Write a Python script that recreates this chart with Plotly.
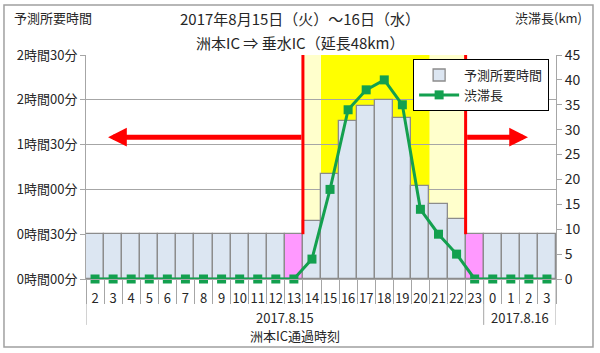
import plotly.graph_objects as go

# ---- data ----
hours = ["2", "3", "4", "5", "6", "7", "8", "9", "10", "11", "12", "13", "14", "15",
         "16", "17", "18", "19", "20", "21", "22", "23", "0", "1", "2", "3"]
dates = ["2017.8.15"] * 22 + ["2017.8.16"] * 4
travel_min = [30, 30, 30, 30, 30, 30, 30, 30, 30, 30, 30, 30, 39, 70,
              106, 116, 120, 108, 62, 50, 40, 30, 30, 30, 30, 30]
jam_km = [0, 0, 0, 0, 0, 0, 0, 0, 0, 0, 0, 0, 4, 18,
          34, 38, 40, 35, 14, 9, 5, 0, 0, 0, 0, 0]
pink_hours = ["13", "23"]
period_hours = ("14", "22")     # pale yellow / red lines
peak_hours = ("15", "20")       # bright yellow
left_ticks = [0, 30, 60, 90, 120, 150]
left_ticktext = ["0時間00分", "0時間30分", "1時間00分", "1時間30分", "2時間00分", "2時間30分"]
right_ticks = [0, 5, 10, 15, 20, 25, 30, 35, 40, 45]

FONT = "Noto Sans CJK JP"
TXT = "#262626"
GRID = "#a6a6a6"

x = list(range(len(hours)))
bar_colors = ["#ff99ff" if (h in pink_hours and d == "2017.8.15") else "#dce6f2"
              for h, d in zip(hours, dates)]

def idx(h):
    return hours.index(h)

p0, p1 = idx(period_hours[0]) - 0.5, idx(period_hours[1]) + 0.5
k0, k1 = idx(peak_hours[0]) - 0.5, idx(peak_hours[1]) + 0.5

fig = go.Figure()
fig.add_trace(go.Bar(x=x, y=travel_min, name="予測所要時間",
                     marker=dict(color=bar_colors, line=dict(color="#8c8c8c", width=1.3)),
                     yaxis="y"))
fig.add_trace(go.Scatter(x=x, y=jam_km, name="渋滞長", mode="lines+markers",
                         line=dict(color="#13a04f", width=3),
                         marker=dict(symbol="square", size=9, color="#13a04f"),
                         cliponaxis=False, yaxis="y2"))

shapes = [
    dict(type="rect", xref="x", yref="y", x0=p0, x1=p1, y0=0, y1=150,
         fillcolor="#ffffcc", line=dict(width=0), layer="below"),
    dict(type="rect", xref="x", yref="y", x0=k0, x1=k1, y0=0, y1=150,
         fillcolor="#ffff00", line=dict(width=0), layer="below"),
    dict(type="line", xref="x", yref="y", x0=p0, x1=p0, y0=30, y1=150,
         line=dict(color="#ff0000", width=3), layer="above"),
    dict(type="line", xref="x", yref="y", x0=p1, x1=p1, y0=30, y1=150,
         line=dict(color="#ff0000", width=3), layer="above"),
]
# group dividers below the axis
groups = []
for i, d in enumerate(dates):
    if not groups or groups[-1][0] != d:
        groups.append([d, i, i])
    else:
        groups[-1][2] = i
bounds = sorted(set([g[1] - 0.5 for g in groups] + [g[2] + 0.5 for g in groups]))
for b in bounds:
    shapes.append(dict(type="line", xref="x", yref="paper", x0=b, x1=b, y0=0, y1=-0.205,
                       line=dict(color=GRID, width=1)))
# outer frame
shapes.append(dict(type="rect", xref="paper", yref="paper", x0=-0.1745, x1=1.0787,
                   y0=-0.3036, y1=1.2232, line=dict(color="#a0a0a0", width=1.5)))

annotations = []
for g in groups:
    annotations.append(dict(x=(g[1] + g[2]) / 2, y=-0.174, xref="x", yref="paper",
                            yanchor="middle", text=g[0], showarrow=False,
                            font=dict(size=13, color=TXT)))
annotations += [
    dict(x=0.445, y=-0.254, xref="paper", yref="paper", text="洲本IC通過時刻",
         yanchor="middle", showarrow=False, font=dict(size=13, color=TXT)),
    dict(x=0.455, y=1.165, xref="paper", yref="paper", text="2017年8月15日（火）～16日（水）",
         yanchor="middle", showarrow=False, font=dict(size=15, color=TXT)),
    dict(x=0.455, y=1.055, xref="paper", yref="paper", text="洲本IC ⇒ 垂水IC（延長48km）",
         yanchor="middle", showarrow=False, font=dict(size=15, color=TXT)),
    dict(x=-0.158, y=1.167, xref="paper", yref="paper", text="予測所要時間",
         yanchor="middle", showarrow=False, xanchor="left", font=dict(size=13, color=TXT)),
    dict(x=0.985, y=1.167, xref="paper", yref="paper", text="渋滞長(km)",
         yanchor="middle", showarrow=False, xanchor="center", font=dict(size=13, color=TXT)),
    # arrows
    dict(x=0.72, y=95, xref="x", yref="y", ax=p0, ay=95, axref="x", ayref="y",
         text="", showarrow=True, arrowhead=2, arrowsize=0.75, arrowwidth=5,
         arrowcolor="#ff0000"),
    dict(x=23.95, y=95, xref="x", yref="y", ax=p1, ay=95, axref="x", ayref="y",
         text="", showarrow=True, arrowhead=2, arrowsize=0.75, arrowwidth=5,
         arrowcolor="#ff0000"),
]

fig.update_layout(
    width=600, height=353,
    margin=dict(l=86, r=44, t=55, b=74),
    paper_bgcolor="white", plot_bgcolor="white",
    font=dict(family=FONT, color=TXT, size=13),
    bargap=0,
    showlegend=True,
    legend=dict(x=0.696, y=0.982, xanchor="left", yanchor="top",
                bgcolor="white", bordercolor="black", borderwidth=1,
                font=dict(size=13, color=TXT), tracegroupgap=0, itemwidth=40),
    xaxis=dict(range=[-0.5, len(hours) - 0.5], tickvals=x, ticktext=hours,
               ticks="outside", ticklen=7, tickcolor="rgba(0,0,0,0)",
               showgrid=False, showline=True, linecolor=GRID, linewidth=1,
               tickfont=dict(size=13, color=TXT), zeroline=False,
               minor=dict(tick0=-0.5, dtick=1, ticks="outside", ticklen=24,
                          tickcolor=GRID, tickwidth=1, showgrid=False)),
    yaxis=dict(range=[0, 150], tickvals=left_ticks, ticktext=left_ticktext,
               ticks="outside", ticklen=5, tickcolor=GRID,
               showgrid=True, gridcolor=GRID, gridwidth=1,
               showline=True, linecolor=GRID, zeroline=False,
               tickfont=dict(size=13, color=TXT)),
    yaxis2=dict(range=[0, 45], tickvals=right_ticks, overlaying="y", side="right",
                ticks="outside", ticklen=5, tickcolor=GRID,
                showgrid=False, showline=True, linecolor=GRID, zeroline=False,
                tickfont=dict(size=14, color=TXT)),
    shapes=shapes,
    annotations=annotations,
)

fig.write_html("out.html")
